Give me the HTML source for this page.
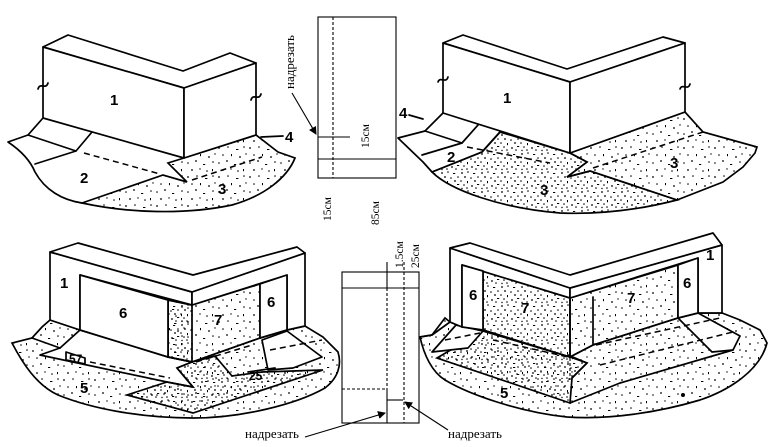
<!DOCTYPE html>
<html><head><meta charset="utf-8"><style>
html,body{margin:0;padding:0;background:#fff;}
svg{display:block;}
.l{fill:none;stroke:#000;stroke-width:1.7;stroke-linejoin:round;stroke-linecap:round;}
.w{fill:#fff;stroke:#000;stroke-width:1.7;stroke-linejoin:round;}
.d{fill:none;stroke:#000;stroke-width:1.5;stroke-dasharray:6 4;}
.t{fill:none;stroke:#000;stroke-width:1.1;}
.td{fill:none;stroke:#000;stroke-width:1.1;stroke-dasharray:3 2;}
.n{font-family:"Liberation Sans",sans-serif;font-size:15px;font-weight:bold;fill:#000;}
.s{font-family:"Liberation Serif","Noto Serif CJK SC",serif;font-size:13px;fill:#000;}
.ss{font-family:"Liberation Serif","Noto Serif CJK SC",serif;font-size:11.5px;fill:#000;}
</style></head><body>
<svg width="778" height="447" viewBox="0 0 778 447" xmlns="http://www.w3.org/2000/svg">
<defs>
<pattern id="sp" width="31" height="29" patternUnits="userSpaceOnUse">
<g fill="#000">
<circle cx="2" cy="3" r="0.9"/><circle cx="11" cy="2" r="0.8"/><rect x="19" y="4" width="2.4" height="1"/><circle cx="27" cy="2" r="0.8"/>
<circle cx="6" cy="10" r="0.8"/><rect x="14" y="9" width="1" height="2.2"/><circle cx="23" cy="12" r="0.9"/><circle cx="29" cy="9" r="0.7"/>
<circle cx="2" cy="18" r="0.8"/><circle cx="10" cy="16" r="0.9"/><rect x="17" y="19" width="2.2" height="1"/><circle cx="27" cy="17" r="0.8"/>
<circle cx="6" cy="25" r="0.9"/><circle cx="14" cy="24" r="0.7"/><circle cx="21" cy="26" r="0.8"/><rect x="26" y="24" width="1" height="2.2"/>
</g></pattern>
<pattern id="sp2" width="20" height="19" patternUnits="userSpaceOnUse">
<g fill="#000">
<circle cx="2" cy="2" r="0.9"/><circle cx="8" cy="1" r="0.8"/><rect x="13" y="2" width="2.2" height="1"/><circle cx="18" cy="6" r="0.8"/>
<circle cx="5" cy="6" r="0.9"/><circle cx="11" cy="7" r="0.8"/><circle cx="1" cy="10" r="0.8"/><rect x="7" y="10" width="1" height="2.2"/>
<circle cx="15" cy="10" r="0.9"/><circle cx="4" cy="14" r="0.8"/><circle cx="12" cy="15" r="0.9"/><rect x="17" y="13" width="2.2" height="1"/>
<circle cx="2" cy="17.5" r="0.7"/><circle cx="7" cy="17" r="0.8"/><circle cx="16" cy="17" r="0.8"/>
</g></pattern>
<marker id="ah" markerWidth="8" markerHeight="8" refX="7" refY="4" orient="auto" markerUnits="userSpaceOnUse">
<path d="M0,0 L8,4 L0,8 Z" fill="#000"/>
</marker>
</defs>

<!-- ================= FIGURE 1 ================= -->
<path d="M82,203 L163,175 L187,182 L168,163 L184,158 L256,135 L278,152 L295,158 C287,178 264,196 232,205 C185,215 128,213 82,203 Z" fill="url(#sp)" stroke="#000" stroke-width="1.7"/>
<path class="l" d="M43,118 L28,135 L8,142 C20,150 30,160 35,172 C45,190 62,200 82,203"/>
<path class="l" d="M28,135 L76,151 L92,132"/>
<path class="l" d="M76,151 L35,164"/>
<path class="d" d="M84,153 L160,174"/>
<path class="d" d="M192,180 L262,157"/>
<path class="l" d="M261,137 L283,136"/>
<path class="w" d="M43,47 L68,35 L183,71 L230,53 L256,63 L184,88 Z"/>
<path class="w" d="M43,47 L184,88 L184,158 L43,118 Z"/>
<path class="w" d="M184,88 L256,63 L256,135 L184,158 Z"/>
<path class="l" d="M38,89 C40,82 46,90 48,83"/>
<path class="l" d="M251,100 C253,93 259,101 261,94"/>
<text class="n" x="110" y="105">1</text>
<text class="n" x="80" y="183">2</text>
<text class="n" x="218" y="194">3</text>
<text class="n" x="285" y="142">4</text>

<!-- ================= TOP STRIP ================= -->
<rect x="318" y="17" width="78" height="161" class="t"/>
<line x1="333" y1="17" x2="333" y2="178" class="td"/>
<line x1="318" y1="159" x2="396" y2="159" class="t"/>
<line x1="318" y1="137" x2="350" y2="137" class="t"/>
<line x1="292" y1="93" x2="316" y2="134" class="t" marker-end="url(#ah)"/>
<text class="s" transform="translate(294,89) rotate(-90)">надрезать</text>
<text class="ss" transform="translate(369,148) rotate(-90)">15см</text>
<text class="ss" transform="translate(331,221) rotate(-90)">15см</text>
<text class="ss" transform="translate(379,225) rotate(-90)">85см</text>

<!-- ================= FIGURE 2 ================= -->
<path d="M432,172 L482,152 L500,132 L570,153 L587,162 L567,177 L590,171 L677,200 C650,207 610,215 560,213 C500,208 450,190 432,172 Z" fill="url(#sp2)" stroke="#000" stroke-width="1.7"/>
<path d="M570,153 L685,112 L703,132 L757,147 L755,153 L743,167 L723,182 L677,200 L590,171 L567,177 L587,162 Z" fill="url(#sp)" stroke="#000" stroke-width="1.7"/>
<path class="l" d="M443,113 L425,131 L398,138 L423,162 L432,172 L482,152 L500,132"/>
<path class="l" d="M425,131 L462,143 L478,125"/>
<path class="l" d="M462,143 L422,155"/>
<path class="d" d="M467,147 L550,163"/>
<path class="d" d="M593,168 L703,132"/>
<path class="l" d="M409,115 L423,119"/>
<path class="w" d="M443,43 L463,35 L567,69 L663,37 L685,43 L570,82 Z"/>
<path class="w" d="M443,43 L570,82 L570,153 L443,113 Z"/>
<path class="w" d="M570,82 L685,43 L685,112 L570,153 Z"/>
<path class="l" d="M438,82 C440,76 446,84 448,77"/>
<path class="l" d="M680,89 C682,83 688,91 690,84"/>
<text class="n" x="503" y="103">1</text>
<text class="n" x="447" y="162">2</text>
<text class="n" x="670" y="168">3</text>
<text class="n" x="540" y="195">3</text>
<text class="n" x="399" y="118">4</text>

<!-- ================= FIGURE 3 ================= -->
<path d="M50,320 L42,327 L32,338 L12,343 C22,362 36,385 58,395 C95,410 145,418 193,418 C240,418 295,405 325,388 C338,378 342,365 338,352 L323,337 L305,326 L287,330 L260,338 L192,362 L168,357 L80,330 Z" fill="url(#sp)" stroke="#000" stroke-width="1.7"/>
<path class="w" d="M80,330 L168,357 L192,362 L177,368 L193,387 L167,382 L40,355 L60,348 Z"/>
<path class="w" d="M262,340 L287,331 L322,357 L293,368 L268,370 Z"/>
<path d="M127,395 L167,382 L193,387 L177,368 L192,362 L215,356 L232,376 L262,372 L323,370 L193,413 Z" fill="url(#sp2)" stroke="#000" stroke-width="1.7"/>
<path class="l" d="M32,338 L60,348"/>
<path class="d" d="M90,332 L168,353"/>
<path class="d" d="M90,362 L170,378"/>
<path class="d" d="M196,362 L252,345"/>
<path class="d" d="M270,350 L322,340"/>
<path class="l" d="M66,352 L85,358 L85,364 L66,360 Z"/>
<path class="l" d="M248,372 L275,368"/>
<!-- panel 7 -->
<path d="M168,300 L192,305 L260,284 L260,338 L192,362 L168,357 Z" fill="url(#sp)" stroke="#000" stroke-width="1.7"/>
<path d="M168,300 L192,305 L192,362 L168,357 Z" fill="url(#sp2)" stroke="#000" stroke-width="1.7"/>
<line x1="192" y1="305" x2="192" y2="362" class="td"/>
<!-- wall -->
<path class="w" d="M50,252 L192,292 L192,305 L80,275 L80,330 L50,320 Z"/>
<path class="w" d="M80,275 L168,300 L168,357 L80,330 Z"/>
<path class="w" d="M192,292 L305,253 L305,326 L287,330 L287,275 L192,305 Z"/>
<path class="w" d="M260,284 L287,275 L287,330 L260,338 Z"/>
<path class="w" d="M50,252 L78,243 L193,275 L297,247 L305,253 L192,292 Z"/>
<text class="n" x="60" y="288">1</text>
<text class="n" x="119" y="318">6</text>
<text class="n" x="214" y="325">7</text>
<text class="n" x="267" y="307">6</text>
<text class="n" x="80" y="393">5</text>
<text class="n" x="69" y="363" style="font-size:12px">57</text>
<text class="n" x="249" y="380" style="font-size:12px">25</text>

<!-- ================= BOTTOM STRIP ================= -->
<rect x="342" y="272" width="77" height="151" class="t"/>
<line x1="342" y1="288" x2="419" y2="288" class="t"/>
<line x1="387" y1="262" x2="387" y2="288" class="t"/>
<line x1="387" y1="288" x2="387" y2="389" class="td"/>
<line x1="387" y1="389" x2="387" y2="423" class="t"/>
<line x1="404" y1="262" x2="404" y2="423" class="td"/>
<line x1="342" y1="389" x2="387" y2="389" class="td"/>
<line x1="387" y1="400" x2="403" y2="400" class="t"/>
<line x1="305" y1="437" x2="385" y2="413" class="t" marker-end="url(#ah)"/>
<line x1="448" y1="430" x2="405" y2="402" class="t" marker-end="url(#ah)"/>
<text class="s" x="245" y="438">надрезать</text>
<text class="s" x="448" y="438">надрезать</text>
<text class="ss" transform="translate(403,268) rotate(-90)">1.5см</text>
<text class="ss" transform="translate(419,268) rotate(-90)">25см</text>

<!-- ================= FIGURE 4 ================= -->
<path d="M450,322 L445,318 L432,335 L420,337 C424,355 432,372 445,380 C470,395 520,412 567,417 C610,420 660,412 700,400 C730,390 760,370 767,343 L760,330 L740,320 L722,313 L698,313 L678,318 L593,345 L570,357 L483,330 L462,327 Z" fill="url(#sp)" stroke="#000" stroke-width="1.7"/>
<path d="M437,358 L483,331 L570,357 L587,363 L572,378 L570,403 Z" fill="url(#sp2)" stroke="#000" stroke-width="1.7"/>
<path class="w" d="M456,325 L483,331 L468,348 L432,352 Z"/>
<path class="w" d="M678,318 L698,313 L740,336 L733,350 L712,352 Z"/>
<path class="l" d="M450,322 L432,335 L420,337"/>
<path class="l" d="M570,403 L620,383 L733,350"/>
<path class="l" d="M568,355 L587,363 L572,378"/>
<path class="d" d="M493,340 L568,357"/>
<path class="d" d="M596,345 L720,318"/>
<path class="d" d="M600,365 L733,332"/>
<path class="d" d="M445,340 L480,333"/>
<!-- panel 7 -->
<path d="M483,271 L570,298 L570,357 L483,330 Z" fill="url(#sp2)" stroke="#000" stroke-width="1.7"/>
<path d="M570,298 L678,265 L678,318 L593,345 L570,357 Z" fill="url(#sp)" stroke="#000" stroke-width="1.7"/>
<line x1="593" y1="297" x2="593" y2="345" class="l"/>
<line x1="570" y1="298" x2="570" y2="380" class="td"/>
<!-- wall -->
<path class="w" d="M450,248 L570,288 L570,298 L462,265 L462,327 L450,322 Z"/>
<path class="w" d="M462,265 L483,271 L483,330 L462,327 Z"/>
<path class="w" d="M570,288 L722,245 L722,313 L698,313 L698,258 L570,298 Z"/>
<path class="w" d="M678,265 L698,258 L698,313 L678,318 Z"/>
<path class="w" d="M450,248 L470,243 L570,275 L713,233 L722,245 L570,288 Z"/>
<circle cx="683" cy="395" r="2" fill="#000"/>
<text class="n" x="469" y="300">6</text>
<text class="n" x="521" y="313">7</text>
<text class="n" x="627" y="303">7</text>
<text class="n" x="683" y="288">6</text>
<text class="n" x="706" y="260">1</text>
<text class="n" x="500" y="398">5</text>
</svg>
</body></html>
